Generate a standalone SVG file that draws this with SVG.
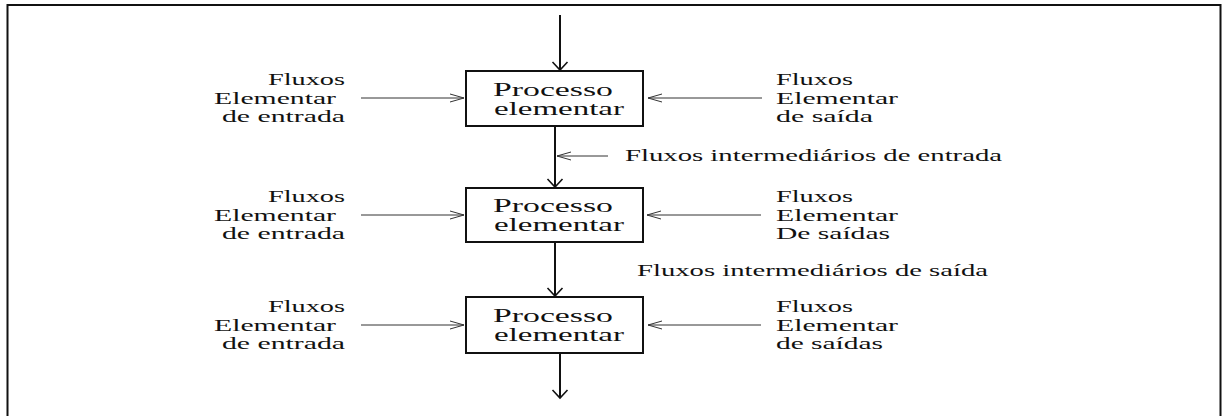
<svg xmlns="http://www.w3.org/2000/svg" width="1223" height="416" viewBox="0 0 1223 416">
  <style>
    text { font-family: "Liberation Serif", "Times New Roman", serif; fill: #111; }
    .lbl { font-size: 16px; }
    .box-text { font-size: 18px; }
    .box { fill: #fff; stroke: #111; stroke-width: 2; }
    .flow { stroke: #111; stroke-width: 2; fill: none; }
    .side { stroke: #333; stroke-width: 1; fill: none; }
  </style>
  <defs>
    <marker id="headMain" viewBox="-9 -9 18 18" markerWidth="18" markerHeight="18" refX="0" refY="0" orient="auto" markerUnits="userSpaceOnUse">
      <path d="M-8,-7.5 L0,0 L-8,7.5" fill="none" stroke="#111" stroke-width="1.6"/>
    </marker>
    <marker id="headSide" viewBox="-16 -6 18 12" markerWidth="18" markerHeight="12" refX="0" refY="0" orient="auto" markerUnits="userSpaceOnUse">
      <path d="M-14,-4 L0,0 L-14,4" fill="none" stroke="#333" stroke-width="1"/>
    </marker>
  </defs>

  <!-- outer frame -->
  <rect x="7.5" y="5" width="1213" height="420" fill="#fff" stroke="#111" stroke-width="2"/>

  <!-- connectors -->
  <g id="connectors">
    <line class="flow" x1="560" y1="15" x2="560" y2="70" marker-end="url(#headMain)"/>
    <line class="flow" x1="555" y1="127" x2="555" y2="187" marker-end="url(#headMain)"/>
    <line class="flow" x1="555" y1="243" x2="555" y2="296" marker-end="url(#headMain)"/>
    <line class="flow" x1="560" y1="354" x2="560" y2="398" marker-end="url(#headMain)"/>

    <line class="side" x1="361" y1="98" x2="464" y2="98" marker-end="url(#headSide)"/>
    <line class="side" x1="762" y1="98" x2="648" y2="98" marker-end="url(#headSide)"/>
    <line class="side" x1="608" y1="156" x2="557" y2="156" marker-end="url(#headSide)"/>

    <line class="side" x1="361" y1="215" x2="464" y2="215" marker-end="url(#headSide)"/>
    <line class="side" x1="761" y1="215" x2="647" y2="215" marker-end="url(#headSide)"/>

    <line class="side" x1="361" y1="325" x2="464" y2="325" marker-end="url(#headSide)"/>
    <line class="side" x1="761" y1="325" x2="648" y2="325" marker-end="url(#headSide)"/>
  </g>

  <!-- process boxes -->
  <g id="process1">
    <rect class="box" x="466" y="71" width="177" height="55"/>
    <text class="box-text" x="493" y="96" textLength="120" lengthAdjust="spacingAndGlyphs">Processo</text>
    <text class="box-text" x="494" y="115" textLength="130" lengthAdjust="spacingAndGlyphs">elementar</text>
  </g>
  <g id="process2">
    <rect class="box" x="466" y="188" width="177" height="54"/>
    <text class="box-text" x="493" y="212" textLength="120" lengthAdjust="spacingAndGlyphs">Processo</text>
    <text class="box-text" x="494" y="231" textLength="130" lengthAdjust="spacingAndGlyphs">elementar</text>
  </g>
  <g id="process3">
    <rect class="box" x="466" y="297" width="177" height="56"/>
    <text class="box-text" x="493" y="322" textLength="120" lengthAdjust="spacingAndGlyphs">Processo</text>
    <text class="box-text" x="494" y="341" textLength="130" lengthAdjust="spacingAndGlyphs">elementar</text>
  </g>

  <!-- input flow labels (left) -->
  <g id="input1">
    <text class="lbl" x="268" y="85" textLength="77" lengthAdjust="spacingAndGlyphs">Fluxos</text>
    <text class="lbl" x="214" y="104" textLength="122" lengthAdjust="spacingAndGlyphs">Elementar</text>
    <text class="lbl" x="222" y="122" textLength="123" lengthAdjust="spacingAndGlyphs">de entrada</text>
  </g>
  <g id="input2">
    <text class="lbl" x="268" y="202" textLength="77" lengthAdjust="spacingAndGlyphs">Fluxos</text>
    <text class="lbl" x="214" y="221" textLength="122" lengthAdjust="spacingAndGlyphs">Elementar</text>
    <text class="lbl" x="222" y="239" textLength="123" lengthAdjust="spacingAndGlyphs">de entrada</text>
  </g>
  <g id="input3">
    <text class="lbl" x="268" y="312" textLength="77" lengthAdjust="spacingAndGlyphs">Fluxos</text>
    <text class="lbl" x="214" y="331" textLength="122" lengthAdjust="spacingAndGlyphs">Elementar</text>
    <text class="lbl" x="222" y="349" textLength="123" lengthAdjust="spacingAndGlyphs">de entrada</text>
  </g>

  <!-- output flow labels (right) -->
  <g id="output1">
    <text class="lbl" x="776" y="85" textLength="77" lengthAdjust="spacingAndGlyphs">Fluxos</text>
    <text class="lbl" x="776" y="104" textLength="122" lengthAdjust="spacingAndGlyphs">Elementar</text>
    <text class="lbl" x="776" y="122" textLength="97" lengthAdjust="spacingAndGlyphs">de saída</text>
  </g>
  <g id="output2">
    <text class="lbl" x="776" y="202" textLength="77" lengthAdjust="spacingAndGlyphs">Fluxos</text>
    <text class="lbl" x="776" y="221" textLength="122" lengthAdjust="spacingAndGlyphs">Elementar</text>
    <text class="lbl" x="776" y="239" textLength="114" lengthAdjust="spacingAndGlyphs">De saídas</text>
  </g>
  <g id="output3">
    <text class="lbl" x="776" y="312" textLength="77" lengthAdjust="spacingAndGlyphs">Fluxos</text>
    <text class="lbl" x="776" y="331" textLength="122" lengthAdjust="spacingAndGlyphs">Elementar</text>
    <text class="lbl" x="776" y="349" textLength="107" lengthAdjust="spacingAndGlyphs">de saídas</text>
  </g>

  <!-- intermediate flow labels -->
  <g id="intermediate-in">
    <text class="lbl" x="625" y="161" textLength="377" lengthAdjust="spacingAndGlyphs">Fluxos intermediários de entrada</text>
  </g>
  <g id="intermediate-out">
    <text class="lbl" x="637" y="276" textLength="351" lengthAdjust="spacingAndGlyphs">Fluxos intermediários de saída</text>
  </g>
</svg>
